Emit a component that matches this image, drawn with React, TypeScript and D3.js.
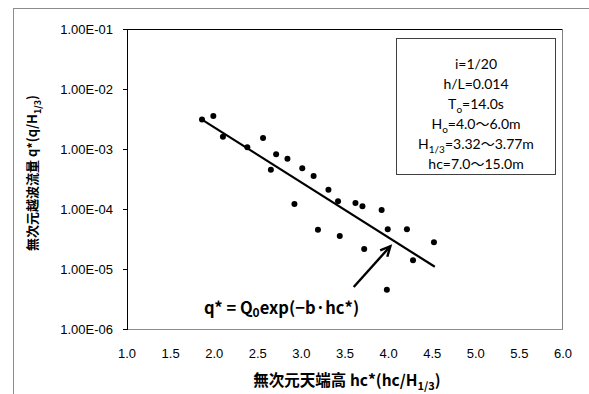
import * as d3 from 'd3'

// measured points: dimensionless crest height vs dimensionless overtopping rate
const hcStar = [1.86, 1.99, 2.1, 2.38, 2.56, 2.71, 2.84, 2.65, 3.01, 3.14, 2.92, 3.31, 3.42, 3.62, 3.7, 3.92, 3.19, 3.44, 3.99, 4.21, 4.52, 3.72, 4.28, 3.98]
const qStar = [3.1e-3, 3.55e-3, 1.6e-3, 1.07e-3, 1.53e-3, 8.2e-4, 6.9e-4, 4.5e-4, 4.8e-4, 3.55e-4, 1.21e-4, 2.1e-4, 1.34e-4, 1.26e-4, 1.11e-4, 9.6e-5, 4.5e-5, 3.55e-5, 4.6e-5, 4.6e-5, 2.8e-5, 2.15e-5, 1.4e-5, 4.5e-6]

// fitted exponential line q* = Q0 exp(-b hc*), drawn between its end points
const fitX = [1.86, 4.53]
const fitQ = [3.08e-3, 1.09e-5]

// arrow pointing at the fit line (tail, head)
const arrowX = [3.6, 4.02]
const arrowQ = [5.0e-6, 2.4e-5]

const xTicks = [1.0, 1.5, 2.0, 2.5, 3.0, 3.5, 4.0, 4.5, 5.0, 5.5, 6.0]
const yTicks = [1e-1, 1e-2, 1e-3, 1e-4, 1e-5, 1e-6]
const yTickLabels = ['1.00E-01', '1.00E-02', '1.00E-03', '1.00E-04', '1.00E-05', '1.00E-06']

const W = 589
const H = 394
const M = { left: 127, top: 29, right: 563, bottom: 329 }

const NUM_FONT = '"Liberation Sans", Arial, sans-serif'
const JP_FONT = '"Noto Sans CJK JP", sans-serif'
const BOX_FONT = 'Lato, "Noto Sans CJK JP", sans-serif'

export default function App() {
  const x = d3.scaleLinear().domain([1, 6]).range([M.left, M.right])
  const y = d3.scaleLog().domain([1e-6, 1e-1]).range([M.bottom, M.top])

  const fitLine = d3.line<number>()
    .x((d) => x(d))
    .y((_, i) => y(fitQ[i]))(fitX)

  // arrow
  const ax0 = x(arrowX[0]), ay0 = y(arrowQ[0])
  const ax1 = x(arrowX[1]), ay1 = y(arrowQ[1])
  const ang = Math.atan2(ay1 - ay0, ax1 - ax0)
  const headLen = 11
  const headPts = [ang + Math.PI - 0.45, ang + Math.PI + 0.45].map((a) => [ax1 + headLen * Math.cos(a), ay1 + headLen * Math.sin(a)])

  const boxLines: { main: string; sub?: string; rest?: string }[] = [
    { main: 'i=1/20' },
    { main: 'h/L=0.014' },
    { main: 'T', sub: 'o', rest: '=14.0s' },
    { main: 'H', sub: 'o', rest: '=4.0〜6.0m' },
    { main: 'H', sub: '1/3', rest: '=3.32〜3.77m' },
    { main: 'hc=7.0〜15.0m' },
  ]

  return (
    <svg width={W} height={H} style={{ position: 'absolute', left: 0, top: 0, background: '#fff' }}>
      {/* chart border */}
      <rect x={13.5} y={8.5} width={620} height={420} fill="#fff" stroke="#8c8c8c" strokeWidth={1} />

      {/* plot frame */}
      <line x1={M.left} x2={M.right} y1={M.top + 0.5} y2={M.top + 0.5} stroke="#000" />
      <line x1={M.right - 0.5} x2={M.right - 0.5} y1={M.top} y2={M.bottom} stroke="#808080" />
      <line x1={M.left} x2={M.right} y1={M.bottom + 0.5} y2={M.bottom + 0.5} stroke="#8c8c8c" />
      <line x1={M.left + 0.5} x2={M.left + 0.5} y1={M.top} y2={M.bottom + 1} stroke="#000" />

      {/* y ticks */}
      {yTicks.map((t, i) => (
        <g key={t}>
          <line x1={M.left - 4} x2={M.left} y1={Math.round(y(t)) + 0.5} y2={Math.round(y(t)) + 0.5} stroke="#000" />
          <text x={113} y={y(t)} dy="0.35em" textAnchor="end" fontFamily={NUM_FONT} fontSize={13} fill="#000">{yTickLabels[i]}</text>
        </g>
      ))}

      {/* x tick labels */}
      {xTicks.map((t) => (
        <text key={t} x={x(t)} y={353} dy="0.35em" textAnchor="middle" fontFamily={NUM_FONT} fontSize={13} fill="#000">{d3.format('.1f')(t)}</text>
      ))}

      {/* axis titles */}
      <text x={347} y={381} dy="0.35em" textAnchor="middle" fontFamily={JP_FONT} fontWeight={700} fontSize={15.5} fill="#000">
        無次元天端高 hc*(hc/H<tspan fontSize={11} dy={4}>1/3</tspan><tspan dy={-4}>)</tspan>
      </text>
      <text transform={`translate(32,${(M.top + M.bottom) / 2 - 6}) rotate(-90)`} dy="0.35em" textAnchor="middle" fontFamily={JP_FONT} fontWeight={700} fontSize={13} fill="#000">
        無次元越波流量 q*(q/H<tspan fontSize={9} dy={4}>1/3</tspan><tspan dy={-4}>)</tspan>
      </text>

      {/* fit line */}
      <path d={fitLine ?? ''} fill="none" stroke="#000" strokeWidth={2.2} />

      {/* data points */}
      {hcStar.map((h, i) => (
        <circle key={i} cx={x(h)} cy={y(qStar[i])} r={3} fill="#000" />
      ))}

      {/* arrow */}
      <line x1={ax0} y1={ay0} x2={ax1} y2={ay1} stroke="#000" strokeWidth={2.4} />
      <polyline points={`${headPts[0][0]},${headPts[0][1]} ${ax1},${ay1} ${headPts[1][0]},${headPts[1][1]}`} fill="none" stroke="#000" strokeWidth={2.4} />

      {/* equation */}
      <text x={204} y={314} fontFamily={JP_FONT} fontWeight={700} fontSize={16.5} fill="#000">
        q* = Q<tspan fontSize={12} dy={3}>0</tspan><tspan dy={-3}>exp(−b·hc*)</tspan>
      </text>

      {/* condition box */}
      <rect x={396.5} y={38.5} width={159} height={136} fill="#fff" stroke="#404040" strokeWidth={1} />
      {boxLines.map((l, i) => (
        <text key={i} x={476} y={64 + i * 20} dy="0.35em" textAnchor="middle" fontFamily={BOX_FONT} fontSize={14} fill="#000">
          {l.main}
          {l.sub && <tspan fontSize={10} dy={4}>{l.sub}</tspan>}
          {l.rest && <tspan dy={-4}>{l.rest}</tspan>}
        </text>
      ))}
    </svg>
  )
}
